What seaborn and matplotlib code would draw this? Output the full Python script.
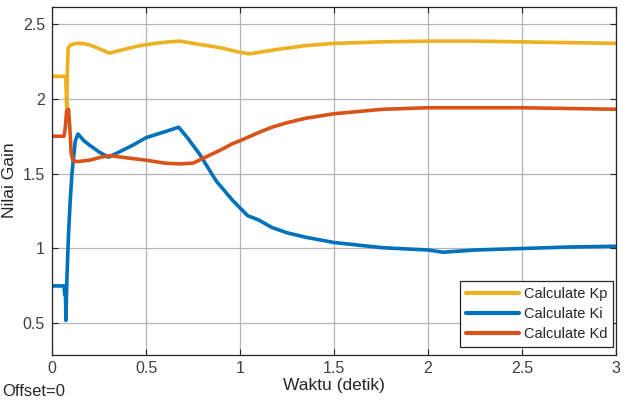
import pandas as pd
import numpy as np
import matplotlib
matplotlib.use("Agg")
import matplotlib.pyplot as plt
import seaborn as sns

# values
t_kp = [0, 0.07, 0.074, 0.078, 0.082, 0.086, 0.1, 0.13, 0.16, 0.2, 0.25, 0.305, 0.4, 0.47, 0.55, 0.62, 0.68,
        0.8, 0.9, 1.0, 1.05, 1.2, 1.35, 1.5, 1.75, 2.0, 2.25, 2.5, 2.75, 3.0]
kp = [2.15, 2.15, 2.12, 1.94, 2.2, 2.34, 2.36, 2.37, 2.37, 2.36, 2.335, 2.305, 2.335, 2.355, 2.37, 2.38, 2.385,
      2.36, 2.34, 2.31, 2.30, 2.33, 2.355, 2.37, 2.38, 2.385, 2.385, 2.38, 2.375, 2.37]

t_ki = [0, 0.064, 0.068, 0.071, 0.074, 0.08, 0.088, 0.097, 0.106, 0.115, 0.124, 0.138, 0.17, 0.2, 0.25, 0.3,
        0.35, 0.43, 0.5, 0.6, 0.674, 0.72, 0.785, 0.874, 0.962, 1.04, 1.1, 1.17, 1.25, 1.35, 1.5, 1.76,
        2.0, 2.08, 2.25, 2.5, 2.75, 3.0]
ki = [0.75, 0.75, 0.69, 0.74, 0.52, 0.83, 1.1, 1.32, 1.5, 1.61, 1.72, 1.765, 1.72, 1.69, 1.645, 1.61,
      1.64, 1.69, 1.74, 1.78, 1.81, 1.74, 1.63, 1.45, 1.32, 1.22, 1.19, 1.14, 1.105, 1.075, 1.04, 1.005,
      0.99, 0.975, 0.99, 1.0, 1.01, 1.015]

t_kd = [0, 0.064, 0.07, 0.078, 0.088, 0.095, 0.102, 0.11, 0.133, 0.2, 0.26, 0.31, 0.4, 0.5, 0.6, 0.68,
        0.75, 0.8, 0.9, 0.96, 1.0, 1.1, 1.17, 1.25, 1.35, 1.5, 1.76, 2.0, 2.25, 2.5, 2.75, 3.0]
kd = [1.75, 1.75, 1.80, 1.92, 1.93, 1.80, 1.64, 1.59, 1.58, 1.59, 1.61, 1.62, 1.605, 1.59, 1.57, 1.565,
      1.57, 1.60, 1.66, 1.70, 1.72, 1.775, 1.81, 1.84, 1.87, 1.90, 1.93, 1.94, 1.94, 1.94, 1.935, 1.93]

series_names = ["Calculate Kp", "Calculate Ki", "Calculate Kd"]
series_colors = ["#EDB120", "#0072BD", "#D95319"]

x_ticks = [0, 0.5, 1, 1.5, 2, 2.5, 3]
x_labels = ["0", "0.5", "1", "1.5", "2", "2.5", "3"]
y_ticks = [0.5, 1, 1.5, 2, 2.5]
y_labels = ["0.5", "1", "1.5", "2", "2.5"]

sns.set_theme(style="ticks")
plt.rcParams['font.family'] = ['Liberation Sans', 'DejaVu Sans']

fig = plt.figure(figsize=(6.24, 4.03), dpi=100)
ax = fig.add_axes([52 / 624, 1 - 354.5 / 403, 564 / 624, 347.8 / 403])

for t, v, name, c in zip([t_kp, t_ki, t_kd], [kp, ki, kd], series_names, series_colors):
    df = pd.DataFrame({"t": t, "v": v})
    sns.lineplot(data=df, x="t", y="v", ax=ax, color=c, linewidth=2.6, label=name,
                 estimator=None, sort=False)

ax.set_xlim(0, 3)
ax.set_ylim(0.292, 2.615)
ax.set_xticks(x_ticks)
ax.set_xticklabels(x_labels)
ax.set_yticks(y_ticks)
ax.set_yticklabels(y_labels)
ax.grid(True, color="#b4b4b4", linewidth=0.9)
ax.set_axisbelow(True)
ax.tick_params(direction="in", length=4, width=0.8, colors="#262626", labelcolor="#404040",
               labelsize=11.5, top=True, right=True, pad=5)
for s in ax.spines.values():
    s.set_color("#262626")
    s.set_linewidth(0.9)

ax.set_xlabel("Waktu (detik)", fontsize=12.5, color="#262626", labelpad=1)
ax.set_ylabel("Nilai Gain", fontsize=12.5, color="#262626", labelpad=4)

leg = ax.legend(loc="lower right", bbox_to_anchor=(0.995, 0.021), fontsize=10.5, handlelength=3.6,
                frameon=True, fancybox=False, borderaxespad=0, labelspacing=0.42,
                handletextpad=0.35, borderpad=0.4)
leg.get_frame().set_edgecolor("#262626")
leg.get_frame().set_linewidth(0.9)
leg.get_frame().set_alpha(1)
for line in leg.get_lines():
    line.set_linewidth(3)
for txt in leg.get_texts():
    txt.set_color("#262626")

fig.text(2 / 624, 1 - 392 / 403, "Offset=0", fontsize=12, color="#262626", va="center", ha="left")

fig.savefig("out.png", dpi=100)
